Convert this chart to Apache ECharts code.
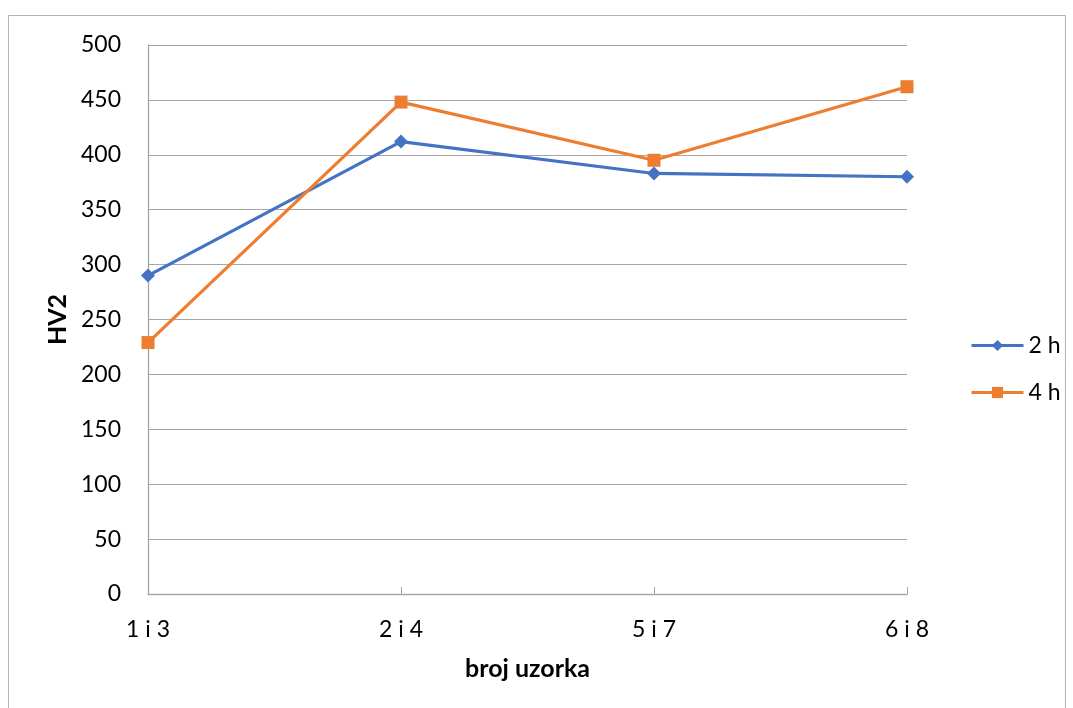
<!DOCTYPE html>
<html><head><meta charset="utf-8">
<script src="https://cdn.jsdelivr.net/npm/echarts@6/dist/echarts.min.js"></script>
<style>html,body{margin:0;padding:0;background:#fff}#c{width:1073px;height:708px}</style>
</head><body><div id="c"></div>
<script>
const categories = ['1 i 3', '2 i 4', '5 i 7', '6 i 8'];
const series2h = [290, 412, 383, 380];
const series4h = [229, 448, 395, 462];
const yTicks = [0, 50, 100, 150, 200, 250, 300, 350, 400, 450, 500];

const FONT = 'Lato, "Open Sans", sans-serif';
const chart = echarts.init(document.getElementById('c'), null, {renderer: 'canvas'});
chart.setOption({
  animation: false,
  backgroundColor: '#fff',
  graphic: [{
    type: 'rect', silent: true, z: -1,
    shape: {x: 8.5, y: 15.5, width: 1057, height: 700},
    style: {fill: 'none', stroke: '#b4b4b4', lineWidth: 1}
  }],
  grid: {left: 148, top: 45, right: 166, bottom: 114, containLabel: false},
  legend: {
    orient: 'vertical', left: 965, top: 329, itemGap: 24,
    itemWidth: 52, itemHeight: 14,
    lineStyle: {width: 3},
    textStyle: {fontFamily: FONT, fontSize: 23, color: '#000'},
    data: ['2 h', '4 h']
  },
  xAxis: {
    type: 'category', data: categories, boundaryGap: false,
    name: 'broj uzorka', nameLocation: 'middle', nameGap: 62,
    nameTextStyle: {fontFamily: FONT, fontSize: 25, fontWeight: 'bold', color: '#000'},
    axisLine: {lineStyle: {color: '#a6a6a6', width: 1.3}},
    axisTick: {show: true, inside: true, length: 7, alignWithLabel: true, lineStyle: {color: '#a6a6a6'}},
    axisLabel: {fontFamily: FONT, fontSize: 23, color: '#000', margin: 24},
    splitLine: {show: false}
  },
  yAxis: {
    type: 'value', min: 0, max: 500, interval: 50,
    name: 'HV2', nameLocation: 'middle', nameGap: 76, nameRotate: 90,
    nameTextStyle: {fontFamily: FONT, fontSize: 25, fontWeight: 'bold', color: '#000'},
    axisLine: {show: true, lineStyle: {color: '#a6a6a6', width: 1.3}},
    axisTick: {show: false},
    axisLabel: {fontFamily: FONT, fontSize: 23, color: '#000', margin: 27,
      formatter: v => yTicks.includes(v) ? String(v) : ''},
    splitLine: {lineStyle: {color: '#a6a6a6', width: 1.2}}
  },
  series: [
    {name: '2 h', type: 'line', data: series2h, symbol: 'diamond', symbolSize: 14,
     lineStyle: {color: '#4472c4', width: 3.2}, itemStyle: {color: '#4472c4'}},
    {name: '4 h', type: 'line', data: series4h, symbol: 'rect', symbolSize: 13,
     lineStyle: {color: '#ed7d31', width: 3.2}, itemStyle: {color: '#ed7d31'}}
  ]
});
</script></body></html>
